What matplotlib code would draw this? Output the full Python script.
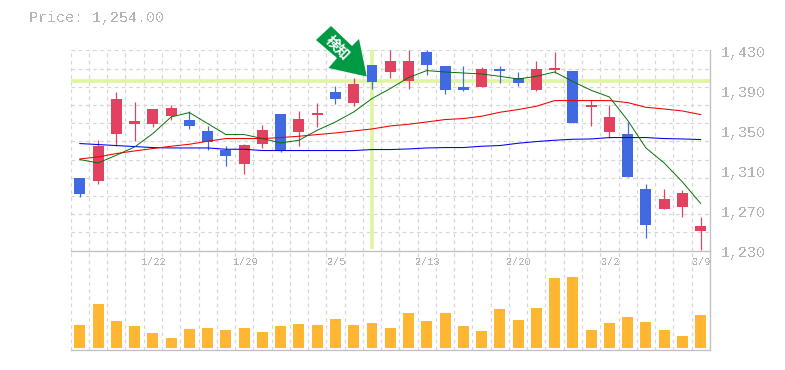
import matplotlib
matplotlib.use("Agg")
import matplotlib.pyplot as plt
from matplotlib.patches import Polygon

W, H = 785, 370

opens = [1302, 1299, 1346, 1356, 1356, 1364, 1360, 1349, 1330, 1316, 1336, 1366, 1348, 1365, 1388, 1377, 1415, 1408,
         1399, 1428, 1414, 1393, 1393, 1411, 1402, 1390, 1410, 1409, 1373, 1348, 1346, 1291, 1271, 1273, 1249]
closes = [1286, 1334, 1381, 1359, 1371, 1372, 1354, 1338, 1324, 1335, 1350, 1329, 1361, 1367, 1381, 1396, 1398, 1419,
          1419, 1415, 1390, 1390, 1411, 1409, 1397, 1411, 1412, 1357, 1375, 1363, 1303, 1255, 1281, 1287, 1254]
highs = [1302, 1340, 1388, 1378, 1371, 1375, 1369, 1354, 1334, 1336, 1355, 1366, 1369, 1377, 1394, 1402, 1415, 1430,
         1430, 1430, 1414, 1414, 1413, 1414, 1408, 1419, 1428, 1409, 1380, 1375, 1358, 1296, 1291, 1290, 1263]
lows = [1283, 1296, 1334, 1339, 1353, 1360, 1351, 1330, 1314, 1306, 1332, 1328, 1334, 1353, 1376, 1374, 1391, 1402,
        1391, 1405, 1386, 1389, 1393, 1397, 1394, 1389, 1407, 1357, 1354, 1342, 1303, 1242, 1271, 1263, 1230]
ma_short = [1320.7, 1317.3, 1325, 1333.3, 1346.7, 1363.3, 1367.7, 1356.7, 1345.7, 1345.7, 1341.7, 1337.3, 1340, 1350,
            1358.3, 1368.3, 1381.7, 1391.7, 1402.7, 1409.7, 1408.3, 1407.3, 1406.3, 1404, 1401.3, 1404, 1408.3, 1398.7,
            1390, 1383.3, 1360, 1332.3, 1317.3, 1298.3, 1276.7]
ma_mid = [1321.3, 1323.3, 1326.7, 1329.3, 1331.7, 1334, 1336, 1339, 1341.7, 1341.7, 1341.7, 1342.7, 1344, 1345.7,
          1347.3, 1349.3, 1351.3, 1354.3, 1356, 1358.3, 1360.7, 1361.7, 1364, 1368, 1370.7, 1374, 1379.7, 1379.7,
          1379.7, 1379.7, 1377.7, 1373, 1371.3, 1369.3, 1365.7]
ma_long = [1336.7, 1335.7, 1334.7, 1333.7, 1332.7, 1332.3, 1332.3, 1332.3, 1331, 1331, 1329.7, 1329.7, 1329.7, 1329.7,
           1329.7, 1329.7, 1330.7, 1330.7, 1331.3, 1332.3, 1332.7, 1332.7, 1334, 1334.7, 1337, 1338.7, 1340, 1341,
           1341.3, 1342.7, 1342.7, 1342.7, 1341.7, 1341.3, 1340.7]
volumes = [23, 44, 27, 22, 15, 10, 19, 20, 18, 20, 16, 22, 24, 23, 29, 23, 25, 20, 35, 27, 35, 22, 17, 39, 28, 40,
           70, 71, 18, 25, 31, 26, 18, 12, 33]
date_idx = [4, 9, 14, 19, 24, 29, 34]
date_labels = ["1/22", "1/29", "2/5", "2/13", "2/20", "3/2", "3/9"]
price_ticks = [1430, 1390, 1350, 1310, 1270, 1230]
signal_idx = 16
signal_price = 1399

UP = "#e2425f"
DOWN = "#4169e1"
VOL = "#ffb733"
HILITE = "#e0f5a0"
GRID = "#d6d6d6"
AXIS = "#c0c0c0"
TEXT = "#b4b4b4"
FONT = "Liberation Mono"
PX = 0.72  # one pixel in points at dpi 100


def rect(left, top, right, bottom):
    return [left / W, 1 - bottom / H, (right - left) / W, (bottom - top) / H]


def style_grid(ax):
    ax.set_xticks([i - 0.5 for i in range(len(closes) + 1)])
    ax.tick_params(length=0, labelbottom=False, labelleft=False)
    ax.grid(True, axis="x", color=GRID, linewidth=PX * 1.2, linestyle=(0, (3, 3)))
    ax.set_axisbelow(True)
    for side in ("top", "left", "bottom", "right"):
        ax.spines[side].set_visible(False)


fig = plt.figure(figsize=(W / 100, H / 100), dpi=100, facecolor="white")

# price panel
ax = fig.add_axes(rect(70.7, 50.3, 709.8, 250.5))
ax.set_xlim(-0.5, len(closes) - 0.5)
ax.set_ylim(1229.7, 1430)
style_grid(ax)
ax.set_yticks([1229.7 + i * 200.3 / 11 for i in range(12)])
ax.grid(True, axis="y", color=GRID, linewidth=PX * 1.2, linestyle=(0, (3, 3)))
ax.spines["right"].set_visible(True)
ax.spines["right"].set_color(AXIS)
ax.spines["right"].set_linewidth(PX * 1.3)

ax.axhline(signal_price, color=HILITE, linewidth=PX * 3.6, zorder=1.5)
ax.plot([signal_idx, signal_idx], [1231, 1430], color=HILITE, linewidth=PX * 3.6, zorder=1.5, solid_capstyle="butt")

for i in range(len(closes)):
    color = UP if closes[i] >= opens[i] else DOWN
    ax.plot([i, i], [lows[i], highs[i]], color=color, linewidth=PX * 1.2, zorder=3, solid_capstyle="butt")
    ax.bar(i, abs(closes[i] - opens[i]), bottom=min(opens[i], closes[i]), width=0.6, color=color, zorder=3)

xs = range(len(closes))
ax.plot(xs, ma_long, color="#0000ee", linewidth=PX * 1.05, zorder=4)
ax.plot(xs, ma_mid, color="#ee0000", linewidth=PX * 1.05, zorder=4)
ax.plot(xs, ma_short, color="#007000", linewidth=PX * 0.95, zorder=4)

for p in price_ticks:
    ax.annotate(f"{p:,}", xy=(1, p), xycoords=("axes fraction", "data"), xytext=(11, -3), textcoords="offset pixels",
                color=TEXT, family=FONT, fontsize=10.8, va="center", ha="left", antialiased=False)

# volume panel
vax = fig.add_axes(rect(70.7, 250.5, 709.8, 350))
vax.set_xlim(-0.5, len(closes) - 0.5)
vax.set_ylim(-2, 98)
style_grid(vax)
vax.bar(xs, volumes, width=0.6, color=VOL, zorder=3)
for side in ("top", "bottom", "right"):
    vax.spines[side].set_visible(True)
    vax.spines[side].set_color(AXIS)
    vax.spines[side].set_linewidth(PX * 1.3)
for i, label in zip(date_idx, date_labels):
    vax.text(i + 0.05, 86, label, color=TEXT, family=FONT, fontsize=7.4, ha="center", va="center", zorder=2,
             antialiased=False)

# signal arrow drawn in pixel space
arrow_px = [(331, 26), (352, 46), (359, 39), (366.7, 76.5), (328.5, 68), (337, 58), (316, 40)]
arrow_fig = [(x / W, 1 - y / H) for x, y in arrow_px]
fig.add_artist(Polygon(arrow_fig, closed=True, transform=fig.transFigure, facecolor="#009944", edgecolor="none", zorder=6))
fig.text(337.5 / W, 1 - 48 / H, "検知", color="white", family=["Noto Sans CJK JP", "DejaVu Sans"], fontsize=10,
         weight="bold", rotation=-45, rotation_mode="anchor", ha="center", va="center", zorder=7)

fig.text(29 / W, 1 - 18 / H, "Price: 1,254.00", color=TEXT, family=FONT, fontsize=10.8, va="center", ha="left",
         antialiased=False)

fig.savefig("out.png", dpi=100, facecolor="white")
